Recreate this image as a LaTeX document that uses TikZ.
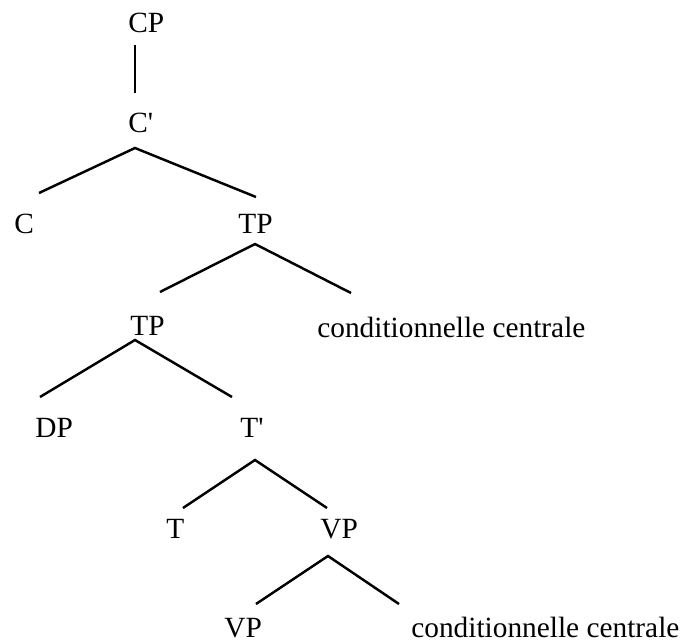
\documentclass[tikz,border=0pt]{standalone}
\usepackage{fontspec}
\setmainfont{Liberation Serif}
\usepackage{tikz}
\tikzset{x=0.02cm, y=-0.02cm,
  cat/.style={anchor=base west, inner sep=0pt, font=\fontsize{16.7}{20}\selectfont},
  branch/.style={line width=1.4pt}}

\begin{document}
\begin{tikzpicture}
      \useasboundingbox (0,0) rectangle (683,643);

      \node[cat]  (CP)    at (128,32)  {CP};
      \node[cat]  (Cb)    at (128,132) {C\textquotesingle};
      \node[cat]  (C)     at (14,233)  {C};
      \node[cat]  (TP)    at (238,233) {TP};
      \node[cat]  (TPi)   at (130,335) {TP};
      \node[cat]  (cond)  at (317,337) {conditionnelle centrale};
      \node[cat]  (DP)    at (35,437)  {DP};
      \node[cat]  (Tb)    at (240,437) {T\textquotesingle};
      \node[cat]  (T)     at (166,538) {T};
      \node[cat]  (VP)    at (320,538) {VP};
      \node[cat]  (VPi)   at (224,637) {VP};
      \node[cat]  (condi) at (411,637) {conditionnelle centrale};

      % branch ends: -dn below a mother, -up above a daughter
      \coordinate (CP-dn)    at (135,45);
      \coordinate (Cb-up)    at (135,93);
      \coordinate (Cb-dn)    at (135,148);
      \coordinate (C-up)     at (39,193);
      \coordinate (TP-up)    at (256,197);
      \coordinate (TP-dn)    at (255,244);
      \coordinate (TPi-up)   at (160,292);
      \coordinate (cond-up)  at (351,293);
      \coordinate (TPi-dn)   at (135,340);
      \coordinate (DP-up)    at (40,397);
      \coordinate (Tb-up)    at (232,397);
      \coordinate (Tb-dn)    at (255,460);
      \coordinate (T-up)     at (183,508);
      \coordinate (VP-up)    at (327,508);
      \coordinate (VP-dn)    at (328,556);
      \coordinate (VPi-up)   at (256,604);
      \coordinate (condi-up) at (399,604);

      \draw[branch] (CP-dn) -- (Cb-up);
      \draw[branch] (C-up) -- (Cb-dn) -- (TP-up);
      \draw[branch] (TPi-up) -- (TP-dn) -- (cond-up);
      \draw[branch] (DP-up) -- (TPi-dn) -- (Tb-up);
      \draw[branch] (T-up) -- (Tb-dn) -- (VP-up);
      \draw[branch] (VPi-up) -- (VP-dn) -- (condi-up);
    \end{tikzpicture}
\end{document}
